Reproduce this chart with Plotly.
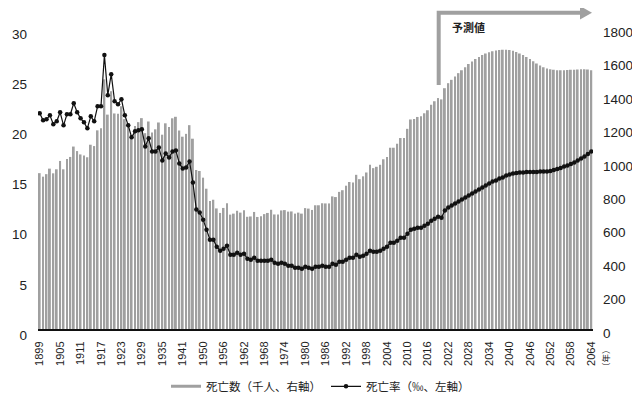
import plotly.graph_objects as go

# ---- data ----
years_prewar = [str(y) for y in range(1899, 1944)]
years_postwar = [str(y) for y in range(1947, 2065)]
years = years_prewar + years_postwar

deaths_thousand = [
    932, 911, 926, 959, 931, 955, 1005, 955, 1017, 1029,
    1091, 1064, 1044, 1037, 1027, 1102, 1094, 1188, 1200, 1493,
    1282, 1422, 1289, 1287, 1332, 1255, 1211, 1161, 1214, 1237,
    1261, 1171, 1241, 1175, 1194, 1235, 1162, 1230, 1208, 1260,
    1269, 1187, 1150, 1167, 1219,
    1138, 951, 945, 905, 839, 765, 773, 721, 694, 724,
    752, 684, 690, 707, 696, 710, 671, 673, 700, 670,
    675, 687, 694, 713, 685, 684, 709, 711, 702, 703,
    690, 696, 690, 723, 720, 712, 740, 740, 752, 751,
    751, 793, 789, 820, 830, 857, 879, 876, 922, 896,
    913, 936, 982, 962, 970, 982, 1015, 1029, 1084, 1084,
    1108, 1142, 1142, 1197, 1253, 1256, 1268, 1273, 1290, 1308,
    1341, 1362, 1381, 1373,
    # projection 2021-2064
    1440, 1470, 1490, 1510, 1530, 1548, 1566, 1584, 1600, 1614,
    1627, 1638, 1648, 1655, 1661, 1665, 1668, 1670, 1670, 1668,
    1664, 1657, 1648, 1638, 1627, 1614, 1601, 1588, 1576, 1566,
    1558, 1553, 1550, 1548, 1548, 1548, 1549, 1550, 1551, 1552,
    1553, 1553, 1552, 1548,
]

death_rate_permil = [
    21.5, 20.8, 20.9, 21.3, 20.4, 20.7, 21.6, 20.3, 21.4, 21.4,
    22.5, 21.6, 21.0, 20.6, 20.0, 21.2, 20.7, 22.2, 22.2, 27.3,
    23.3, 25.4, 22.7, 22.4, 22.9, 21.3, 20.3, 19.1, 19.7, 19.8,
    19.9, 18.2, 19.0, 17.7, 17.7, 18.1, 16.8, 17.5, 17.1, 17.7,
    17.8, 16.5, 16.0, 16.1, 16.7,
    14.6, 11.9, 11.6, 10.9, 9.9, 8.9, 8.9, 8.2, 7.8, 8.0,
    8.3, 7.4, 7.4, 7.6, 7.4, 7.5, 7.0, 6.9, 7.1, 6.8,
    6.8, 6.8, 6.8, 6.9, 6.6, 6.5, 6.6, 6.5, 6.3, 6.3,
    6.1, 6.1, 6.0, 6.2, 6.1, 6.0, 6.2, 6.2, 6.3, 6.2,
    6.2, 6.5, 6.4, 6.7, 6.7, 6.9, 7.1, 7.1, 7.4, 7.2,
    7.3, 7.5, 7.8, 7.7, 7.7, 7.8, 8.0, 8.2, 8.6, 8.6,
    8.8, 9.1, 9.1, 9.5, 9.9, 10.0, 10.1, 10.1, 10.3, 10.5,
    10.8, 11.0, 11.2, 11.1,
    # projection 2021-2064
    11.8, 12.1, 12.3, 12.5, 12.7, 12.9, 13.1, 13.3, 13.5, 13.7,
    13.9, 14.1, 14.3, 14.5, 14.7, 14.8, 15.0, 15.1, 15.3, 15.4,
    15.5, 15.55, 15.6, 15.6, 15.65, 15.65, 15.65, 15.65, 15.7, 15.7,
    15.7, 15.75, 15.85, 15.95, 16.05, 16.2, 16.3, 16.45, 16.6, 16.8,
    17.0, 17.2, 17.45, 17.7,
]

x_tick_labels = [
    "1899", "1905", "1911", "1917", "1923", "1929", "1935", "1941",
    "1950", "1956", "1962", "1968", "1974", "1980", "1986", "1992",
    "1998", "2004", "2010", "2016", "2022", "2028", "2034", "2040",
    "2046", "2052", "2058", "2064",
]
left_ticks = [0, 5, 10, 15, 20, 25, 30]
right_ticks = [0, 200, 400, 600, 800, 1000, 1200, 1400, 1600, 1800]

series_names = ["死亡数（千人、右軸）", "死亡率（‰、左軸）"]
forecast_label = "予測値"
year_unit = "（年）"

GRAY = "#a0a0a0"
NUM_FONT = "Liberation Sans, Arial, sans-serif"
JP_FONT = "Noto Sans CJK JP, sans-serif"

# page has an 8px body margin; figure is sized so it fills the 640x394 window
OFF = 8
W, H = 640 - OFF, 394 - OFF
L, R, T, B = 30, 47, 20, 65
pw, ph = W - L - R, H - T - B


def px(xpage):
    return (xpage - OFF - L) / pw


def py(ypage):
    return (H - B - (ypage - OFF)) / ph


fig = go.Figure()

# legend proxy for the bar series (shown as a gray line in the legend)
fig.add_trace(go.Scatter(x=[None], y=[None], mode="lines", name=series_names[0],
                         line=dict(color=GRAY, width=3), yaxis="y", showlegend=True))

fig.add_trace(go.Bar(x=years, y=deaths_thousand, marker=dict(color=GRAY, line=dict(width=0)),
                     name=series_names[0], showlegend=False, yaxis="y"))

fig.add_trace(go.Scatter(x=years, y=death_rate_permil, mode="lines+markers",
                         name=series_names[1], yaxis="y2",
                         line=dict(color="#111111", width=1.2),
                         marker=dict(color="#111111", size=4.5)))

fig.update_layout(
    width=W, height=H,
    margin=dict(l=L, r=R, t=T, b=B, autoexpand=False),
    paper_bgcolor="white", plot_bgcolor="white",
    bargap=0.45,
    showlegend=True,
    legend=dict(orientation="h", xref="container", yref="container",
                x=158 / W, xanchor="left", y=0.02, yanchor="middle",
                font=dict(family=JP_FONT, size=11.5, color="#222"),
                itemwidth=30, traceorder="normal", tracegroupgap=0),
    xaxis=dict(type="category", categoryorder="array", categoryarray=years,
               tickmode="array", tickvals=x_tick_labels, ticktext=x_tick_labels,
               tickangle=-90, ticks="", showgrid=False, automargin=False,
               showline=True, linecolor="#111", linewidth=2,
               tickfont=dict(family=NUM_FONT, size=11, color="#222"),
               ticklabelstandoff=6, range=[-0.5, len(years) - 0.5]),
    yaxis=dict(side="right", range=[0, 1800], tickvals=right_ticks, automargin=False,
               showgrid=False, zeroline=False, showline=False, ticks="",
               tickfont=dict(family=NUM_FONT, size=13.5, color="#222"),
               ticklabelstandoff=9, ticklabelshift=4),
    yaxis2=dict(side="left", overlaying="y", range=[0, 30], tickvals=left_ticks, automargin=False,
                showgrid=False, zeroline=False, showline=False, ticks="",
                tickfont=dict(family=NUM_FONT, size=13.5, color="#222"),
                ticklabelstandoff=10, ticklabelshift=6),
)

# forecast arrow
fig.add_shape(type="path", xref="paper", yref="paper",
              path=f"M {px(438.7)},{py(85)} L {px(438.7)},{py(12.7)} L {px(581)},{py(12.7)}",
              line=dict(color=GRAY, width=4), fillcolor="rgba(0,0,0,0)")
fig.add_shape(type="path", xref="paper", yref="paper",
              path=f"M {px(580)},{py(6)} L {px(592)},{py(12.7)} L {px(580)},{py(19.4)} Z",
              line=dict(color=GRAY, width=0), fillcolor=GRAY)

fig.add_annotation(xref="paper", yref="paper", x=px(450), y=py(27), xanchor="left", yanchor="middle",
                   text=f"<b>{forecast_label}</b>", showarrow=False,
                   font=dict(family=JP_FONT, size=11, color="#222"))

fig.add_annotation(xref="paper", yref="paper", x=px(605), y=py(358), xanchor="center", yanchor="middle",
                   text=year_unit, textangle=-90, showarrow=False,
                   font=dict(family=JP_FONT, size=8.5, color="#222"))

fig.write_html("out.html")
